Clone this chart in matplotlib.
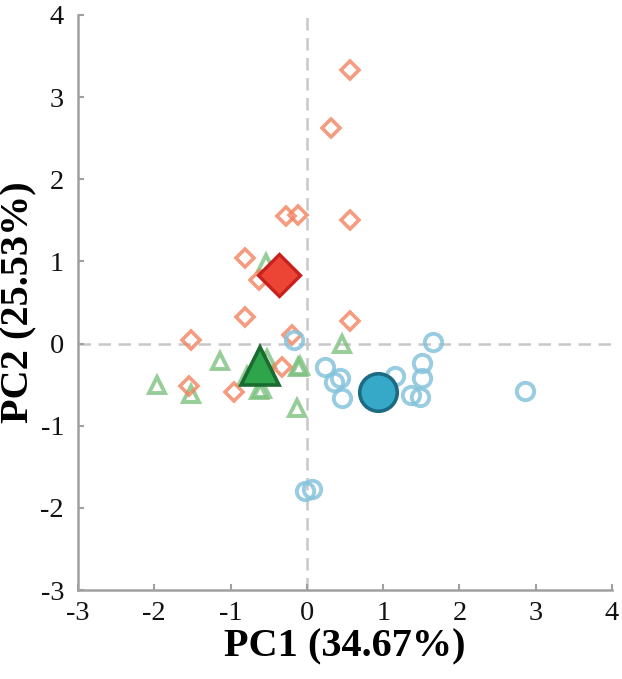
import matplotlib
matplotlib.use("Agg")
import matplotlib.pyplot as plt

# Group A (diamonds)
a_x = [0.57, 0.31, -0.27, -0.12, 0.56, -0.81, -0.63, -0.81, 0.56, -0.20, -1.52, -0.32, -1.55, -0.96]
a_y = [3.33, 2.63, 1.55, 1.57, 1.51, 1.04, 0.77, 0.32, 0.27, 0.10, 0.04, -0.29, -0.52, -0.59]
# Group B (triangles)
b_x = [-0.54, -1.14, -0.52, -0.78, -0.59, -0.63, -0.085, -0.11, -1.96, -1.52, -0.13, 0.46, -0.66, -0.56]
b_y = [0.98, -0.21, -0.19, -0.39, -0.55, -0.57, -0.27, -0.29, -0.51, -0.61, -0.78, 0.00, -0.32, -0.24]
# Group C (circles)
c_x = [-0.17, 1.66, 0.24, 1.51, 0.44, 0.35, 1.16, 1.51, 2.86, 0.46, 1.36, 1.48, -0.02, 0.07]
c_y = [0.04, 0.02, -0.29, -0.24, -0.42, -0.47, -0.39, -0.42, -0.58, -0.66, -0.63, -0.65, -1.80, -1.77]
# Centroids
cent_a = (-0.37, 0.84)
cent_b = (-0.61, -0.27)
cent_c = (0.93, -0.59)

x_ticks = [-3, -2, -1, 0, 1, 2, 3, 4]
y_ticks = [-3, -2, -1, 0, 1, 2, 3, 4]

plt.rcParams['font.family'] = ['Liberation Serif', 'DejaVu Serif']

fig = plt.figure(figsize=(6.22, 6.79), dpi=100)
ax = fig.add_axes([78/622, 89/679, 534/622, 575/679])

ax.axhline(0, color='#C8C8C8', lw=1.8, ls=(0, (5, 3)), zorder=1)
ax.axvline(0, color='#C8C8C8', lw=1.8, ls=(0, (5, 3)), zorder=1)

ax.plot(b_x, b_y, ls='none', marker='^', ms=12, mfc='none', mec='#7CC17F', mew=2.8, alpha=0.8, zorder=2)
ax.plot(a_x, a_y, ls='none', marker='D', ms=9.5, mfc='none', mec='#F3825F', mew=2.6, alpha=0.8, zorder=3)
ax.plot(c_x, c_y, ls='none', marker='o', ms=12.5, mfc='none', mec='#86C3DB', mew=2.8, alpha=0.85, zorder=3)

ax.plot([cent_a[0]], [cent_a[1]], ls='none', marker='D', ms=21, mfc='#EC4535', mec='#C8201C', mew=2.4, zorder=5)
ax.plot([cent_b[0]], [cent_b[1]], ls='none', marker='^', ms=27, mfc='#2FA54B', mec='#1B6B31', mew=2.6, zorder=5)
ax.plot([cent_c[0]], [cent_c[1]], ls='none', marker='o', ms=27, mfc='#36A9C9', mec='#1D6B83', mew=2.6, zorder=5)

ax.set_xlim(-3, 4)
ax.set_ylim(-3, 4)
ax.set_xticks(x_ticks)
ax.set_yticks(y_ticks)
ax.set_xticklabels([str(t) for t in x_ticks])
ax.set_yticklabels([str(t) for t in y_ticks])

for s in ['top', 'right']:
    ax.spines[s].set_visible(False)
for s in ['left', 'bottom']:
    ax.spines[s].set_color('#A0A0A0')
    ax.spines[s].set_linewidth(1.8)

ax.tick_params(axis='both', direction='in', length=4, width=1.5, color='#A0A0A0',
               labelsize=20.5, labelcolor='#111111')
ax.tick_params(axis='x', pad=8)
ax.tick_params(axis='y', pad=10)

ax.set_xlabel('PC1 (34.67%)', fontsize=29, fontweight='bold', labelpad=2)
ax.set_ylabel('PC2 (25.53%)', fontsize=29, fontweight='bold', labelpad=2)

fig.savefig('out.png', dpi=100)
